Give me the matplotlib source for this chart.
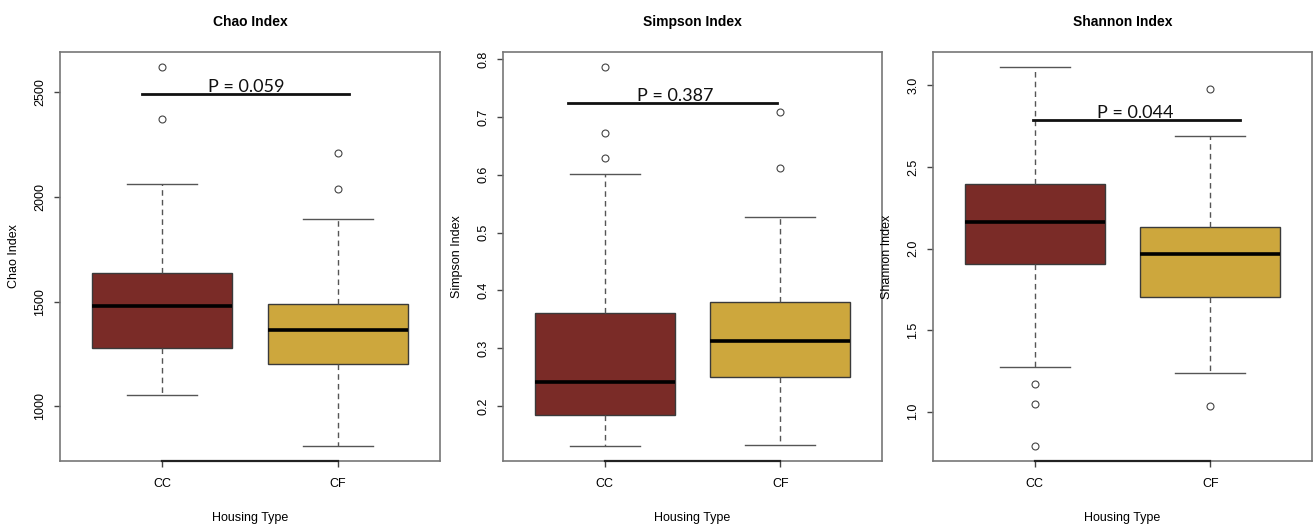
import matplotlib
matplotlib.use("Agg")
import matplotlib.pyplot as plt

plt.rcParams['font.family'] = ['Liberation Sans', 'DejaVu Sans']

groups = ['CC', 'CF']
box_colors = ['#7a2b27', '#cda73d']

titles = ['Chao Index', 'Simpson Index', 'Shannon Index']
xlabel = 'Housing Type'

# per panel: [CC, CF]
whislo = [[1056, 812], [0.131, 0.133], [1.271, 1.236]]
q1 = [[1280, 1202], [0.184, 0.250], [1.908, 1.701]]
med = [[1479, 1365], [0.242, 0.313], [2.160, 1.969]]
q3 = [[1636, 1489], [0.360, 0.380], [2.398, 2.129]]
whishi = [[2061, 1896], [0.601, 0.526], [3.111, 2.691]]
fliers = [
    [[2620, 2374], [2210, 2036]],
    [[0.786, 0.672, 0.628], [0.708, 0.612]],
    [[1.168, 1.049, 0.791], [2.979, 1.034]],
]

yticks = [[1000, 1500, 2000, 2500],
          [0.2, 0.3, 0.4, 0.5, 0.6, 0.7, 0.8],
          [1.0, 1.5, 2.0, 2.5, 3.0]]
ytick_fmt = ['{:.0f}', '{:.1f}', '{:.1f}']

p_text = ['P = 0.059', 'P = 0.387', 'P = 0.044']
p_y = [2492, 0.724, 2.786]
p_x0 = [0.885, 0.793, 0.99]
p_x1 = [2.06, 1.98, 2.17]
p_tx = [1.48, 1.40, 1.57]

W, H = 1314, 526
fig = plt.figure(figsize=(W / 100, H / 100), dpi=100)
panels_px = [(60, 440), (503, 882), (933, 1312)]
top_px, bot_px = 52, 461

for i in range(3):
    l, r = panels_px[i]
    ax = fig.add_axes([l / W, 1 - bot_px / H, (r - l) / W, (bot_px - top_px) / H])

    stats = []
    for j in range(2):
        stats.append(dict(whislo=whislo[i][j], q1=q1[i][j], med=med[i][j],
                          q3=q3[i][j], whishi=whishi[i][j], fliers=fliers[i][j]))
    bp = ax.bxp(stats, positions=[1, 2], widths=0.8, patch_artist=True,
                showfliers=True,
                boxprops=dict(edgecolor='#3a3a3a', linewidth=1.0),
                medianprops=dict(color='black', linewidth=2.6, solid_capstyle='butt'),
                whiskerprops=dict(color='#555555', linestyle=(0, (4, 3)), linewidth=1.0),
                capprops=dict(color='#555555', linewidth=1.0),
                capwidths=0.4,
                flierprops=dict(marker='o', markerfacecolor='none',
                                markeredgecolor='#444444', markersize=5,
                                markeredgewidth=0.8))
    for patch, c in zip(bp['boxes'], box_colors):
        patch.set_facecolor(c)

    allv = [whislo[i][0], whislo[i][1], whishi[i][0], whishi[i][1]] + fliers[i][0] + fliers[i][1]
    lo, hi = min(allv), max(allv)
    pad = (hi - lo) * 0.04
    ax.set_ylim(lo - pad, hi + pad)
    ax.set_xlim(0.42, 2.58)

    ax.set_yticks(yticks[i])
    ax.set_yticklabels([ytick_fmt[i].format(v) for v in yticks[i]], rotation=90, va='center')
    ax.set_xticks([1, 2])
    ax.set_xticklabels(groups)
    ax.tick_params(axis='both', direction='out', length=4, width=1.0, color='#444444',
                   labelsize=9)
    ax.tick_params(axis='y', pad=6)
    ax.tick_params(axis='x', pad=8)

    for s in ax.spines.values():
        s.set_color('#777777')
        s.set_linewidth(1.2)
    # axis line between the two group ticks
    ax.plot([1, 2], [lo - pad, lo - pad], color='#222222', linewidth=1.6,
            clip_on=False, zorder=5)

    # significance bar
    ax.plot([p_x0[i], p_x1[i]], [p_y[i], p_y[i]], color='#111111', linewidth=2.0)
    ax.annotate(p_text[i], (p_tx[i], p_y[i]), xytext=(0, 1.5), textcoords='offset points',
                ha='center', va='baseline', fontsize=13, family=['Lato', 'DejaVu Sans'],
                color='#111111')

    ax.set_title(titles[i], fontsize=10, fontweight='bold', pad=19)
    ax.set_ylabel(titles[i], fontsize=9)
    ax.yaxis.set_label_coords(-0.105, 0.5)
    ax.set_xlabel(xlabel, fontsize=9)
    ax.xaxis.set_label_coords(0.5, -0.125)

fig.savefig('out.png', dpi=100)
